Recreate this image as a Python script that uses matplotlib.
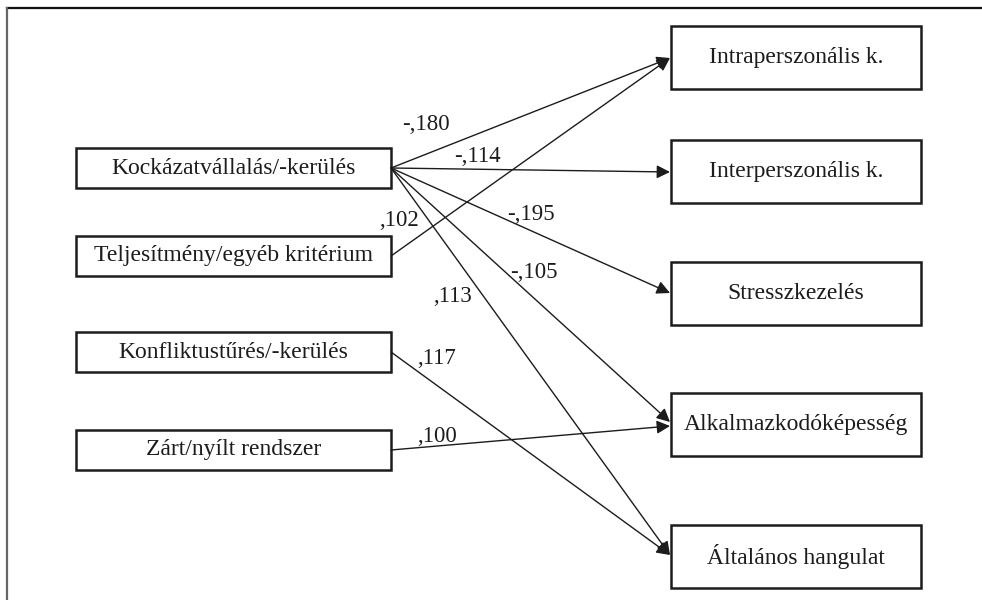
import matplotlib.pyplot as plt
from matplotlib.patches import Rectangle

# path model: predictors -> emotional intelligence scales
sources = ['Kockázatvállalás/-kerülés', 'Teljesítmény/egyéb kritérium',
           'Konfliktustűrés/-kerülés', 'Zárt/nyílt rendszer']
targets = ['Intraperszonális k.', 'Interperszonális k.', 'Stresszkezelés',
           'Alkalmazkodóképesség', 'Általános hangulat']
path_from = [0, 0, 0, 0, 0, 1, 2, 3]
path_to = [0, 1, 2, 3, 4, 0, 4, 3]
coefs = ['-,180', '-,114', '-,195', '-,105', ',113', ',102', ',117', ',100']

# layout (pixel coords, y down)
src_x0, src_x1, src_h = 76, 391, 40
src_top = [148, 236, 332, 430]
tgt_x0, tgt_x1, tgt_h = 671, 921, 63
tgt_top = [26, 140, 262, 393, 525]
tip_y = [58, 172, 293, 422, 555, 58, 555, 426]
label_xy = [(426, 125), (477, 157), (531, 214), (534, 272),
            (453, 297), (399, 221), (437, 358), (437, 437)]

plt.rcParams['font.family'] = ['Liberation Serif', 'DejaVu Serif']
ink = '#1c1c1c'

fig = plt.figure(figsize=(9.82, 6.0), dpi=100)
ax = fig.add_axes([0, 0, 1, 1])
ax.set_xlim(0, 982)
ax.set_ylim(600, 0)
ax.axis('off')

# outer frame (cropped on right and bottom)
ax.plot([7, 982], [8, 8], color='#111111', lw=1.6)
ax.plot([7, 7], [8, 600], color='#666666', lw=1.6)

for name, top in zip(sources, src_top):
    ax.add_patch(Rectangle((src_x0, top), src_x1 - src_x0, src_h,
                           fill=False, ec=ink, lw=1.8))
    ax.text((src_x0 + src_x1) / 2, top + src_h / 2, name, ha='center',
            va='center', fontsize=17, color=ink)

for name, top in zip(targets, tgt_top):
    ax.add_patch(Rectangle((tgt_x0, top), tgt_x1 - tgt_x0, tgt_h,
                           fill=False, ec=ink, lw=1.8))
    ax.text((tgt_x0 + tgt_x1) / 2, top + tgt_h / 2, name, ha='center',
            va='center', fontsize=17, color=ink)

for i, (s, t) in enumerate(zip(path_from, path_to)):
    start = (src_x1, src_top[s] + src_h / 2)
    end = (tgt_x0 - 1, tip_y[i])
    ax.annotate('', xy=end, xytext=start,
                arrowprops=dict(arrowstyle='-|>', color=ink, lw=1.0,
                                mutation_scale=20, shrinkA=0, shrinkB=0))
    ax.text(label_xy[i][0], label_xy[i][1], coefs[i], ha='center',
            va='center', fontsize=16.5, color=ink)

plt.savefig('out.png', dpi=100)
